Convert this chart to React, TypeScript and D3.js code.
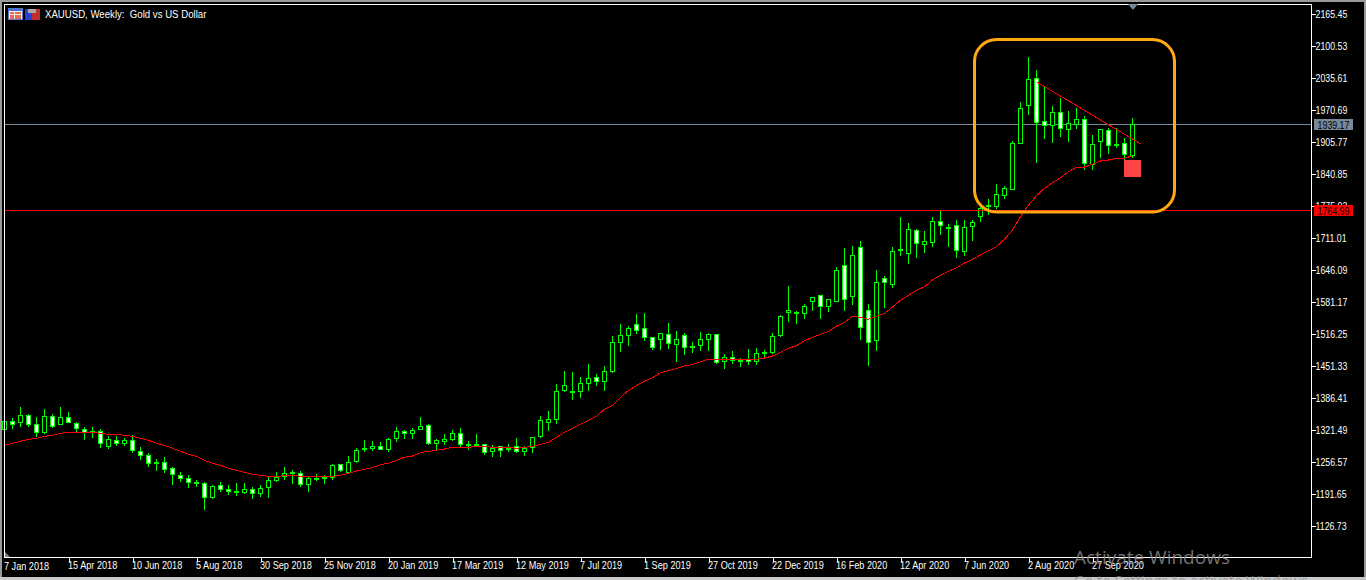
import React, { useEffect, useRef } from 'react';
import * as d3 from 'd3';

const opens = [1321.5,1337.7,1335.7,1349.9,1331.6,1315.4,1347.9,1331.6,1345.8,1333.7,1321.5,1317.6,1317.4,1287,1299.2,1293.1,1299.2,1276.9,1268.8,1254.7,1254.5,1242.4,1228.2,1222.1,1214.2,1212,1183.5,1207.9,1199.8,1195.9,1193.7,1199.8,1191.6,1203.8,1218,1226.1,1234.5,1232.2,1209.9,1222.3,1222.1,1224.1,1250.5,1234.3,1256.6,1283.1,1282.9,1287,1280.9,1303.2,1317.4,1313.4,1321.5,1329.6,1293.1,1297.1,1301.2,1313.4,1291.3,1291.3,1291.1,1276.9,1287,1280.9,1287,1276.9,1285,1307.3,1335.7,1341.8,1400.6,1398.8,1398.6,1414.8,1427,1418.9,1439.2,1498,1512.2,1534.5,1526.3,1508.1,1504.1,1514.2,1494,1512.2,1490.1,1492,1504.1,1514.2,1459.4,1467.6,1461.7,1463.5,1459.4,1477.9,1477.7,1512.2,1558.9,1559.1,1556.8,1581.2,1593.3,1571,1581.2,1654.2,1591.3,1690.7,1562.9,1502.1,1627.8,1615.7,1686.9,1678.5,1725.2,1696.8,1700.9,1743.5,1731.5,1735.4,1682.6,1733.3,1753.6,1776.1,1773.9,1796.2,1808.4,1901.7,1978.8,2033.6,1946.3,1938.2,1964.6,1930.1,1940.3,1950.4,1859.1,1905.8,1928.1,1899.9,1901.7,1877.4];
const highs = [1342.8,1344.8,1367.1,1352.9,1346.8,1363.1,1352.9,1367.1,1357,1336.7,1326.6,1326.6,1322.5,1308.3,1308.3,1304.2,1310.3,1286,1273.8,1261.6,1265.7,1245.4,1235.3,1229.2,1219,1215,1208.9,1215,1208.9,1212.9,1212.9,1204.8,1208.9,1225.1,1235.3,1245.4,1239.3,1237.3,1227.1,1231.2,1229.2,1251.5,1251.5,1267.7,1284,1300.2,1298.2,1296.1,1304.2,1326.6,1320.5,1324.5,1346.8,1332.6,1302.2,1312.4,1320.5,1324.5,1298.2,1312.4,1292.1,1289.9,1288,1292.1,1304.2,1288,1306.3,1348.9,1359,1413.8,1440.2,1438.2,1428,1454.4,1434.1,1450.3,1511.2,1535.5,1531.4,1555.8,1557.8,1509.1,1517.2,1537.5,1521.3,1517.2,1499,1519.3,1517.2,1515.2,1474.7,1480.7,1466.5,1484.8,1486.8,1482.8,1517.2,1553.8,1612.6,1561.9,1576.1,1590.3,1594.4,1586.2,1651.2,1689.7,1693.8,1703.9,1576.1,1645.1,1632.9,1691.7,1752.6,1740.4,1728.2,1724.2,1752.6,1764.8,1738.4,1746.5,1746.5,1746.5,1772.9,1789.1,1819.5,1815.5,1906.8,1985.9,2077.2,2050.8,2016.3,1977.8,1994,1967.7,1973.7,1957.5,1918.9,1931.1,1933.2,1933.2,1912.8,1953.4];
const lows = [1318.5,1322.5,1326.6,1326.6,1306.3,1312.4,1326,1330.6,1334.7,1316.4,1300.2,1304.2,1283.9,1281.9,1288,1288,1273.8,1259.6,1245.4,1237.3,1233.3,1208.9,1215,1202.8,1204.8,1158.2,1182,1194.7,1188.6,1186.6,1190.6,1180.5,1184.5,1182.5,1215,1219,1211,1204.8,1194.7,1217,1211,1219,1235.3,1231.2,1253.5,1275.8,1277.9,1279.9,1275.8,1296.1,1302.2,1302.2,1320.5,1290,1279.9,1290,1298.2,1286,1279.9,1288,1269.8,1265.7,1265.7,1275.8,1273.8,1267.7,1273.8,1304.2,1318.4,1332.6,1397.6,1381.3,1385.4,1399.6,1409.8,1399.6,1436.1,1478.7,1490.9,1515.2,1501,1482.8,1482.8,1484.8,1458.4,1472.6,1476.6,1480.7,1480.7,1454.4,1444.2,1454.4,1448.3,1452.3,1452.3,1468.6,1474.7,1509.1,1539.6,1535.5,1545.7,1561.9,1545.7,1559.9,1580.2,1561.9,1574,1503.1,1450.3,1480.7,1568,1608.6,1673.5,1657.3,1669.4,1679.6,1691.7,1716.1,1691.7,1669.4,1673.5,1703.9,1742.5,1756.7,1768.8,1789.1,1807.4,1900.7,1959.5,1862.2,1910.8,1902.7,1914.9,1904.8,1931.1,1847.9,1847.9,1872.3,1880.4,1892.6,1868.2,1872.3];
const closes = [1337.7,1331.6,1349.9,1331.6,1315.4,1347.9,1327.6,1345.8,1335.7,1323.5,1315.4,1317.4,1293.1,1301.2,1293.1,1299.2,1278.9,1268.8,1252.5,1254.5,1240.3,1230.2,1222.1,1214,1214,1183.5,1205.8,1199.8,1195.7,1195.7,1199.8,1191.6,1201.8,1218,1224.1,1232.2,1234.3,1209.9,1222.1,1222.1,1224.1,1248.5,1238.3,1254.5,1278.9,1282.9,1287,1280.9,1301.2,1317.4,1313.4,1319.5,1327.6,1293.1,1299.2,1301.2,1313.4,1291.1,1291.1,1291.1,1274.8,1282.9,1278.9,1282.9,1276.9,1282.9,1305.2,1339.7,1341.8,1398.6,1410.8,1398.6,1414.8,1425,1418.9,1439.2,1498,1512.2,1526.3,1522.3,1508.1,1487.8,1516.2,1496,1504.1,1487.8,1489.9,1504.1,1514.2,1457.4,1467.6,1461.5,1461.5,1459.4,1475.7,1477.7,1510.1,1550.7,1562.9,1558.9,1571,1589.3,1571,1585.2,1644.1,1585.2,1674.5,1528.4,1498,1619.7,1619.7,1682.6,1686.7,1727.2,1698.8,1702.9,1743.5,1735.4,1731.3,1684.6,1731.3,1741.5,1769.8,1775.9,1798.2,1810.4,1901.7,1972.7,2031.5,1944.3,1938.2,1964.6,1932.1,1942.3,1950.4,1861.1,1899.7,1930.1,1897.6,1899.7,1879.4,1940.3];
const maValues = [1289.4,1293.5,1297.6,1301.6,1303.6,1307.7,1309.7,1313.8,1315.8,1315.8,1315.8,1315.8,1313.8,1311.8,1311.8,1309.7,1307.7,1303.6,1299.6,1293.5,1289.4,1283.3,1277.3,1271.2,1267.1,1259,1252.9,1248.9,1242.8,1238.7,1234.7,1230.6,1228.6,1226.5,1226.5,1227.6,1228.6,1226.5,1226.5,1226.5,1226.5,1226.5,1228.6,1232.6,1237.3,1240.7,1244,1250.1,1252.9,1259,1265.1,1267.7,1274.4,1277.3,1279.3,1281.9,1285.4,1285.4,1285.4,1287.4,1287.4,1285.4,1285.4,1285.4,1283.3,1285.4,1287.4,1291.5,1295.5,1305.7,1315.8,1324,1332.1,1340.2,1348.3,1362.5,1370.6,1386.8,1401,1410.4,1419.9,1426.6,1436.7,1440.8,1444.8,1450.9,1452.9,1459,1463.9,1463.9,1463.9,1463.9,1463.9,1463.9,1463.9,1466.5,1470.6,1478.1,1486.2,1491.5,1501.6,1508.5,1514.6,1520.7,1531.4,1538.9,1551.1,1549.1,1545,1551.1,1557.2,1570,1583.6,1593.7,1603.9,1611.2,1624.8,1634.3,1642.5,1649.2,1659.3,1666.8,1675.5,1684.2,1692.4,1707.4,1726.2,1753.2,1777,1795.8,1810.8,1822.2,1832.3,1844.5,1853.4,1854,1859.5,1866.2,1868.2,1871.7,1871.7,1877];

const priceTicks = [2165.45,2100.53,2035.61,1970.69,1905.77,1840.85,1775.93,1711.01,1646.09,1581.17,1516.25,1451.33,1386.41,1321.49,1256.57,1191.65,1126.73];
const dateIndexes = [8,16,24,32,40,48,56,64,72,80,88,96,104,112,120,128,136];
const dateLabels = ['15 Apr 2018','10 Jun 2018','5 Aug 2018','30 Sep 2018','25 Nov 2018','20 Jan 2019','17 Mar 2019','12 May 2019','7 Jul 2019','1 Sep 2019','27 Oct 2019','22 Dec 2019','16 Feb 2020','12 Apr 2020','7 Jun 2020','2 Aug 2020','27 Sep 2020'];
const firstDate = '7 Jan 2018';

const bidPrice = 1939.17;
const levelPrice = 1764.99;
// hand drawn trend line on the chart, from the top bar to just past the last one
const trendIndexes = [129, 142];
const trendPrices = [2027, 1901];

const FONT = '"Liberation Sans", sans-serif';
const FONT_SIZE = 11;
const LIME = '#00ff00';

// the terminal font is narrower than anything installed, so squeeze the glyphs
const squeeze = (sel: any, ratio: number) => {
  sel.each(function (this: SVGTextElement) {
    this.setAttribute('lengthAdjust', 'spacingAndGlyphs');
    this.setAttribute('textLength', String(this.getComputedTextLength() * ratio));
  });
};

const App: React.FC = () => {
  const svgRef = useRef<SVGSVGElement | null>(null);

  useEffect(() => {
    if (!svgRef.current) return;

    const svg = d3.select(svgRef.current);
    svg.selectAll('*').remove();

    const x = d3.scaleLinear().domain([0, 141]).range([4.5, 1132.5]);
    const y = d3.scaleLinear().domain([1126.73, 2165.45]).range([525.5, 13.5]);
    const snap = (p: number) => Math.floor(y(p) - 0.1) + 0.5;

    // window chrome
    svg.append('rect').attr('width', 1366).attr('height', 580).attr('fill', '#000');
    svg.append('rect').attr('width', 1366).attr('height', 2).attr('fill', '#9a9a9a');
    svg.append('rect').attr('width', 2).attr('height', 580).attr('fill', '#9a9a9a');
    svg.append('rect').attr('x', 1364).attr('width', 2).attr('height', 580).attr('fill', '#9a9a9a');
    svg.append('rect').attr('y', 577).attr('width', 1366).attr('height', 3).attr('fill', '#c8c8c8');

    const chart = svg.append('g').attr('shape-rendering', 'crispEdges');

    // price lines sit behind the bars
    chart.append('line')
      .attr('x1', 4.5).attr('x2', 1311.5)
      .attr('y1', snap(bidPrice)).attr('y2', snap(bidPrice))
      .attr('stroke', '#778899');

    const candles = chart.append('g').selectAll('g')
      .data(d3.range(opens.length))
      .enter().append('g');

    candles.append('line')
      .attr('x1', i => x(i)).attr('x2', i => x(i))
      .attr('y1', i => snap(highs[i])).attr('y2', i => snap(lows[i]) + 0.5)
      .attr('stroke', LIME);

    candles.filter(i => opens[i] !== closes[i]).append('rect')
      .attr('x', i => x(i) - 2)
      .attr('width', 4)
      .attr('y', i => snap(Math.max(opens[i], closes[i])))
      .attr('height', i => Math.max(1, snap(Math.min(opens[i], closes[i])) - snap(Math.max(opens[i], closes[i]))))
      .attr('fill', i => (closes[i] > opens[i] ? '#000' : '#fff'))
      .attr('stroke', LIME);

    // ma line
    const maLine = d3.line<number>()
      .x((_, i) => x(i))
      .y(d => y(d));

    chart.append('path')
      .attr('d', maLine(maValues))
      .attr('fill', 'none')
      .attr('stroke', '#ff0000');

    const trendLine = d3.line<number>()
      .x(i => x(i))
      .y((_, i) => y(trendPrices[i]));

    chart.append('path')
      .attr('d', trendLine(trendIndexes))
      .attr('fill', 'none')
      .attr('stroke', '#ff0000');

    chart.append('line')
      .attr('x1', 4.5).attr('x2', 1311.5)
      .attr('y1', snap(levelPrice)).attr('y2', snap(levelPrice))
      .attr('stroke', '#ff0000');

    // markup drawn over the screenshot
    svg.append('rect')
      .attr('x', x(140) - 0.5).attr('y', y(1868.2))
      .attr('width', 17).attr('height', 17)
      .attr('fill', '#ff4545');

    svg.append('rect')
      .attr('x', 974.5).attr('y', 39.5)
      .attr('width', 200).attr('height', 172.5)
      .attr('rx', 22)
      .attr('fill', 'none')
      .attr('stroke', '#ffa812')
      .attr('stroke-width', 3);

    // frame
    chart.append('rect')
      .attr('x', 4.5).attr('y', 4.5)
      .attr('width', 1307).attr('height', 553)
      .attr('fill', 'none')
      .attr('stroke', '#fff');

    // axes
    const yAxis = d3.axisRight(y)
      .tickValues(priceTicks)
      .tickSize(4)
      .tickPadding(0)
      .tickFormat(d => d3.format('.2f')(d as number));

    const yAxisG = svg.append('g')
      .attr('transform', 'translate(1311.5,0)')
      .attr('shape-rendering', 'crispEdges')
      .call(yAxis);
    yAxisG.select('.domain').remove();
    yAxisG.selectAll('line').attr('stroke', '#fff');
    yAxisG.selectAll('text')
      .attr('fill', '#fff')
      .attr('font-family', FONT)
      .attr('font-size', FONT_SIZE);
    squeeze(yAxisG.selectAll('text'), 0.8);

    const xAxis = d3.axisBottom(x)
      .tickValues(dateIndexes)
      .tickSize(4)
      .tickFormat((_, i) => dateLabels[i]);

    const xAxisG = svg.append('g')
      .attr('transform', 'translate(0,557.5)')
      .attr('shape-rendering', 'crispEdges')
      .call(xAxis);
    xAxisG.select('.domain').remove();
    xAxisG.selectAll('line').attr('stroke', '#fff');
    xAxisG.selectAll('text')
      .attr('fill', '#fff')
      .attr('font-family', FONT)
      .attr('font-size', FONT_SIZE)
      .attr('text-anchor', 'start')
      .attr('dx', -1)
      .attr('y', 4);
    squeeze(xAxisG.selectAll('text'), 0.83);

    const firstLabel = svg.append('text')
      .attr('x', 4).attr('y', 570)
      .attr('fill', '#fff')
      .attr('font-family', FONT)
      .attr('font-size', FONT_SIZE)
      .text(firstDate);
    squeeze(firstLabel, 0.83);

    // price badges
    const badges = [
      { price: bidPrice, color: '#778899' },
      { price: levelPrice, color: '#ff0000' },
    ];
    badges.forEach(b => {
      svg.append('rect')
        .attr('x', 1314).attr('y', snap(b.price) - 5.5)
        .attr('width', 39).attr('height', 11)
        .attr('fill', b.color);
      const label = svg.append('text')
        .attr('x', 1333.5).attr('y', snap(b.price) + 4)
        .attr('text-anchor', 'middle')
        .attr('fill', '#000')
        .attr('font-family', FONT)
        .attr('font-size', FONT_SIZE)
        .text(d3.format('.2f')(b.price));
      squeeze(label, 0.8);
    });

    // title and its two little icons
    const title = svg.append('text')
      .attr('x', 45).attr('y', 18)
      .attr('fill', '#fff')
      .attr('font-family', FONT)
      .attr('font-size', FONT_SIZE)
      .style('white-space', 'pre')
      .text('XAUUSD, Weekly:  Gold vs US Dollar');
    squeeze(title, 0.875);

    const icons = svg.append('g').attr('shape-rendering', 'crispEdges');
    icons.append('rect').attr('x', 8.5).attr('y', 8.5).attr('width', 14).attr('height', 11).attr('fill', '#f5f0f0').attr('stroke', '#5577cc');
    icons.append('rect').attr('x', 9).attr('y', 9).attr('width', 13).attr('height', 2).attr('fill', '#4a6fd8');
    [12, 15, 17].forEach(r => {
      icons.append('rect').attr('x', 10).attr('y', r).attr('width', 4).attr('height', 2).attr('fill', '#e86a50');
      icons.append('rect').attr('x', 15).attr('y', r).attr('width', 6).attr('height', 2).attr('fill', '#e86a50');
    });
    icons.append('rect').attr('x', 25).attr('y', 9).attr('width', 7).attr('height', 11).attr('fill', '#2a3fd0');
    icons.append('rect').attr('x', 32).attr('y', 9).attr('width', 8).attr('height', 11).attr('fill', '#c03030');
    icons.append('rect').attr('x', 28).attr('y', 9).attr('width', 8).attr('height', 4).attr('fill', '#a8a8a8');

    // shift markers
    svg.append('path').attr('d', d3.line()([[1128, 4], [1138, 4], [1133, 10]])).attr('fill', '#778899');
    svg.append('path').attr('d', d3.line()([[5, 552], [5, 557], [10, 557]])).attr('fill', '#778899');

    // windows watermark
    svg.append('text')
      .attr('x', 1074).attr('y', 563.5)
      .attr('fill', '#8a8a8a').attr('fill-opacity', 0.85)
      .attr('font-family', '"Open Sans", "Noto Sans", sans-serif')
      .attr('font-size', 19)
      .text('Activate Windows');
    svg.append('text')
      .attr('x', 1074).attr('y', 585.5)
      .attr('fill', '#8a8a8a').attr('fill-opacity', 0.7)
      .attr('font-family', '"Open Sans", "Noto Sans", sans-serif')
      .attr('font-size', 14.5)
      .text('Go to Settings to activate Windows.');
  }, []);

  return (
    <svg
      ref={svgRef}
      width={1366}
      height={580}
      style={{ position: 'absolute', left: 0, top: 0, display: 'block' }}
    />
  );
};

export default App;
